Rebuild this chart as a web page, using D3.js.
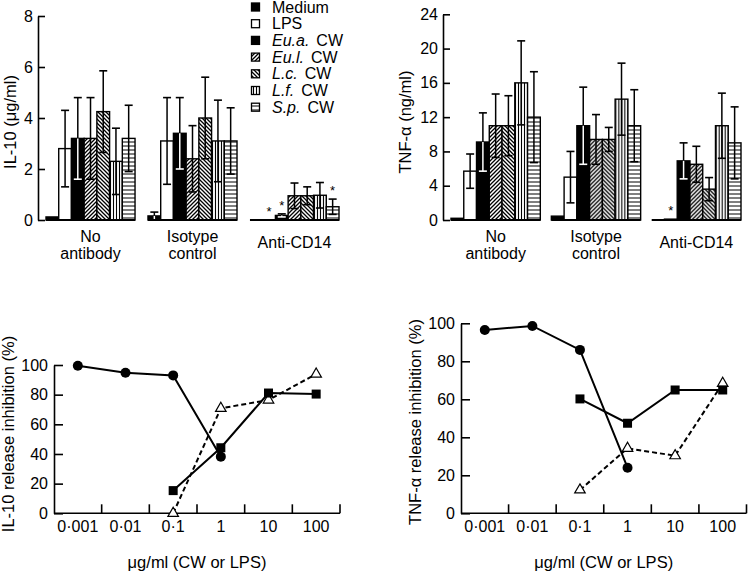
<!DOCTYPE html>
<html><head><meta charset="utf-8">
<script src="https://cdn.jsdelivr.net/npm/d3@7"></script>
<style>
body{margin:0;background:#fff}
svg{display:block}
text{font-family:"Liberation Sans",Arial,Helvetica,sans-serif;fill:#000}
</style>
</head><body>
<svg id="c" width="748" height="572"></svg>
<script>
// ---------- DATA ----------
const groups = ["No antibody", "Isotype control", "Anti-CD14"];
const groupLabels = [["No", "antibody"], ["Isotype", "control"], ["Anti-CD14"]];
const series = ["Medium", "LPS", "Eu.a.", "Eu.l.", "L.c.", "L.f.", "S.p."];
const seriesItalic = [false, false, true, true, true, true, true];

const il10Values = [
  [0.12, 2.8, 3.2, 3.2, 4.25, 2.3, 3.2],
  [0.16, 3.1, 3.4, 2.4, 4.0, 3.1, 3.1],
  [0, 0, 0.18, 0.95, 0.95, 0.97, 0.52]
];
const il10Err = [
  [0, 1.5, 1.6, 1.6, 1.6, 1.3, 1.3],
  [0.15, 1.7, 1.4, 1.3, 1.6, 1.6, 1.3],
  [0, 0, 0.06, 0.5, 0.35, 0.5, 0.3]
];
const il10Stars = [[], [], [1, 2, 6]];
const il10Ticks = [0, 2, 4, 6, 8];

const tnfValues = [
  [0.2, 5.7, 9.1, 11.0, 11.0, 16.0, 12.0],
  [0.45, 5.0, 11.0, 9.4, 9.4, 14.1, 11.0],
  [0, 0.1, 6.9, 6.5, 3.6, 11.0, 9.0]
];
const tnfErr = [
  [0, 2.0, 3.4, 3.7, 3.5, 4.9, 5.3],
  [0, 3.0, 4.5, 2.9, 1.4, 4.2, 4.2],
  [0, 0, 2.1, 2.1, 1.35, 3.8, 4.2]
];
const tnfStars = [[], [], [1]];
const tnfTicks = [0, 4, 8, 12, 16, 20, 24];

const doses = ["0·001", "0·01", "0·1", "1", "10", "100"];
const il10Circle = [99.5, 94.8, 93.0, 38.2, null, null];
const il10Square = [null, null, 15.3, 44.2, 81.1, 80.4];
const il10Triangle = [null, null, 0, 70.8, 76.4, 93.9];
const tnfCircle = [96.5, 98.6, 86.0, 24.0, null, null];
const tnfSquare = [null, null, 60.2, 47.4, 64.9, 64.9];
const tnfTriangle = [null, null, 12.3, 34.2, 30.3, 68.4];
const pctTicks = [0, 20, 40, 60, 80, 100];

// ---------- SETUP ----------
const svg = d3.select("#c");
const defs = svg.append("defs");
function pat(id, w, h, d, sw) {
  const p = defs.append("pattern").attr("id", id).attr("patternUnits", "userSpaceOnUse")
    .attr("width", w).attr("height", h);
  p.append("rect").attr("width", w).attr("height", h).attr("fill", "#fff");
  p.append("path").attr("d", d).attr("stroke", "#000").attr("stroke-width", sw).attr("fill", "none");
}
pat("pFwd", 4, 4, "M-1,1 l2,-2 M0,4 l4,-4 M3,5 l2,-2", 1.3);
pat("pBack", 4, 4, "M-1,3 l2,2 M0,0 l4,4 M3,-1 l2,2", 1.3);
pat("pVert", 3, 3, "M1.5,0 V3", 1.1);
pat("pHoriz", 4, 4, "M0,2 H4", 1);
const fills = ["#000", "#fff", "#000", "url(#pFwd)", "url(#pBack)", "url(#pVert)", "url(#pHoriz)"];
const darkFill = [true, false, true, false, false, false, false];

function barChart(opt) {
  const y = d3.scaleLinear().domain([0, opt.max]).range([220, opt.top]);
  const gx = d3.scaleBand().domain(groups).range(opt.range).paddingInner(opt.pad).paddingOuter(0);
  const bx = d3.scaleBand().domain(series).range([0, gx.bandwidth()]);
  const g = svg.append("g");
  // axis
  const ax = g.append("g").attr("transform", `translate(${opt.axisX},0)`)
    .call(d3.axisLeft(y).tickValues(opt.ticks).tickSize(-7).tickPadding(5).tickSizeOuter(0));
  ax.select(".domain").attr("stroke", "#000").attr("stroke-width", 1.6);
  ax.selectAll(".tick line").attr("stroke", "#000").attr("stroke-width", 1.6);
  ax.selectAll(".tick text").attr("font-size", 16).attr("font-family", "Liberation Sans, Arial, sans-serif").attr("fill", "#000");
  groups.forEach((gn, gi) => {
    const gg = g.append("g").attr("transform", `translate(${gx(gn)},0)`);
    series.forEach((s, si) => {
      const v = opt.values[gi][si], e = opt.err[gi][si];
      const x0 = bx(s), w = bx.bandwidth();
      if (v > 0) {
        gg.append("rect").attr("x", x0).attr("y", y(v)).attr("width", w).attr("height", y(0) - y(v))
          .attr("fill", fills[si]).attr("stroke", "#000").attr("stroke-width", 1.4);
      }
      if (e > 0) {
        const cx = x0 + w / 2;
        gg.append("line").attr("x1", cx).attr("x2", cx).attr("y1", y(v)).attr("y2", y(v + e))
          .attr("stroke", "#000").attr("stroke-width", 1.5);
        gg.append("line").attr("x1", cx - 4).attr("x2", cx + 4).attr("y1", y(v + e)).attr("y2", y(v + e))
          .attr("stroke", "#000").attr("stroke-width", 1.6);
        const lo = Math.max(0, v - e);
        const col = darkFill[si] ? "#fff" : "#000";
        gg.append("line").attr("x1", cx).attr("x2", cx).attr("y1", y(v)).attr("y2", y(lo))
          .attr("stroke", col).attr("stroke-width", 1.5);
        if (v - e > 0.05) gg.append("line").attr("x1", cx - 4).attr("x2", cx + 4).attr("y1", y(lo)).attr("y2", y(lo))
          .attr("stroke", col).attr("stroke-width", 1.6);
      }
    });
    opt.stars[gi].forEach(si => {
      const v = opt.values[gi][si], e = opt.err[gi][si];
      gg.append("text").attr("x", bx(series[si]) + bx.bandwidth() / 2).attr("y", y(v + e) - 4)
        .attr("text-anchor", "middle").attr("font-size", 13).text("*");
    });
    gg.append("line").attr("x1", 0).attr("x2", gx.bandwidth()).attr("y1", y(0)).attr("y2", y(0))
      .attr("stroke", "#000").attr("stroke-width", 1.8);
    const lbl = groupLabels[gi];
    lbl.forEach((t, li) => {
      gg.append("text").attr("x", gx.bandwidth() / 2)
        .attr("y", lbl.length === 1 ? 248 : 242 + li * 17)
        .attr("text-anchor", "middle").attr("font-size", 16).text(t);
    });
  });
  g.append("text").attr("transform", `translate(${opt.labelX},122) rotate(-90)`)
    .attr("text-anchor", "middle").attr("font-size", 16.5).text(opt.label);
}

barChart({max: 8, top: 16, range: [46, 339], pad: 0.127, axisX: 38, ticks: il10Ticks,
  values: il10Values, err: il10Err, stars: il10Stars, label: "IL-10 (μg/ml)", labelX: 16});
barChart({max: 24, top: 14.3, range: [451, 741], pad: 0.11, axisX: 443, ticks: tnfTicks,
  values: tnfValues, err: tnfErr, stars: tnfStars, label: "TNF-α (ng/ml)", labelX: 411});

// legend
const leg = svg.append("g");
series.forEach((s, i) => {
  const cy = 7 + i * 16.7;
  leg.append("rect").attr("x", 251.5).attr("y", cy - 4).attr("width", 8).attr("height", 8)
    .attr("fill", fills[i]).attr("stroke", "#000").attr("stroke-width", 1.3);
  const t = leg.append("text").attr("x", 272).attr("y", cy + 5.5).attr("font-size", 16);
  if (seriesItalic[i]) {
    t.append("tspan").attr("font-style", "italic").text(s);
    t.append("tspan").attr("dx", 7).text("CW");
  } else t.text(s);
});

// ---------- LINE CHARTS ----------
function lineChart(opt) {
  const x = d3.scaleBand().domain(doses).range([opt.x0, opt.x1]);
  const y = d3.scaleLinear().domain([0, 100]).range([513.3, opt.top]);
  const g = svg.append("g");
  const ay = g.append("g").attr("transform", `translate(${opt.x0},0)`)
    .call(d3.axisLeft(y).tickValues(pctTicks).tickSize(-9).tickPadding(6).tickSizeOuter(0));
  ay.select(".domain").attr("stroke", "#000").attr("stroke-width", 1.6);
  ay.selectAll(".tick line").attr("stroke", "#000").attr("stroke-width", 1.6);
  ay.selectAll(".tick text").attr("font-size", 16).attr("fill", "#000").attr("font-family", "Liberation Sans, Arial, sans-serif");
  // x axis
  g.append("line").attr("x1", opt.x0).attr("x2", opt.x1).attr("y1", y(0)).attr("y2", y(0))
    .attr("stroke", "#000").attr("stroke-width", 1.6);
  const edges = doses.map(d => x(d)).concat([opt.x1]);
  edges.slice(1).forEach(ex => {
    g.append("line").attr("x1", ex).attr("x2", ex).attr("y1", y(0)).attr("y2", y(0) - 9)
      .attr("stroke", "#000").attr("stroke-width", 1.6);
  });
  doses.forEach(d => {
    g.append("text").attr("x", x(d) + x.bandwidth() / 2).attr("y", 532).attr("text-anchor", "middle")
      .attr("font-size", 16).text(d);
  });
  const cx = d => x(d) + x.bandwidth() / 2;
  const mk = arr => doses.map((d, i) => ({d, v: arr[i]})).filter(p => p.v !== null);
  const line = d3.line().x(p => cx(p.d)).y(p => y(p.v));
  const circ = mk(opt.circle), sq = mk(opt.square), tri = mk(opt.triangle);
  g.append("path").attr("d", line(tri)).attr("fill", "none").attr("stroke", "#000")
    .attr("stroke-width", 2).attr("stroke-dasharray", "5,3");
  g.append("path").attr("d", line(circ)).attr("fill", "none").attr("stroke", "#000").attr("stroke-width", 2);
  g.append("path").attr("d", line(sq)).attr("fill", "none").attr("stroke", "#000").attr("stroke-width", 2);
  const tsym = d3.symbol().type(d3.symbolTriangle).size(48);
  tri.forEach(p => g.append("path").attr("d", tsym()).attr("transform", `translate(${cx(p.d)},${y(p.v)})`)
    .attr("fill", "#fff").attr("stroke", "#000").attr("stroke-width", 1.2));
  circ.forEach(p => g.append("circle").attr("cx", cx(p.d)).attr("cy", y(p.v)).attr("r", 5).attr("fill", "#000"));
  sq.forEach(p => g.append("rect").attr("x", cx(p.d) - 4.5).attr("y", y(p.v) - 4.5).attr("width", 9).attr("height", 9).attr("fill", "#000"));
  g.append("text").attr("x", (opt.x0 + opt.x1) / 2).attr("y", 568).attr("text-anchor", "middle")
    .attr("font-size", 16.5).text("μg/ml (CW or LPS)");
  g.append("text").attr("transform", `translate(${opt.labelX},${opt.labelY}) rotate(-90)`)
    .attr("text-anchor", "middle").attr("font-size", 16.5).text(opt.label);
}

lineChart({x0: 54, x1: 340, top: 365, circle: il10Circle, square: il10Square, triangle: il10Triangle,
  label: "IL-10 release inhibition (%)", labelX: 14, labelY: 434});
lineChart({x0: 461, x1: 746.5, top: 323.3, circle: tnfCircle, square: tnfSquare, triangle: tnfTriangle,
  label: "TNF-α release inhibition (%)", labelX: 421, labelY: 422});
</script>
</body></html>
